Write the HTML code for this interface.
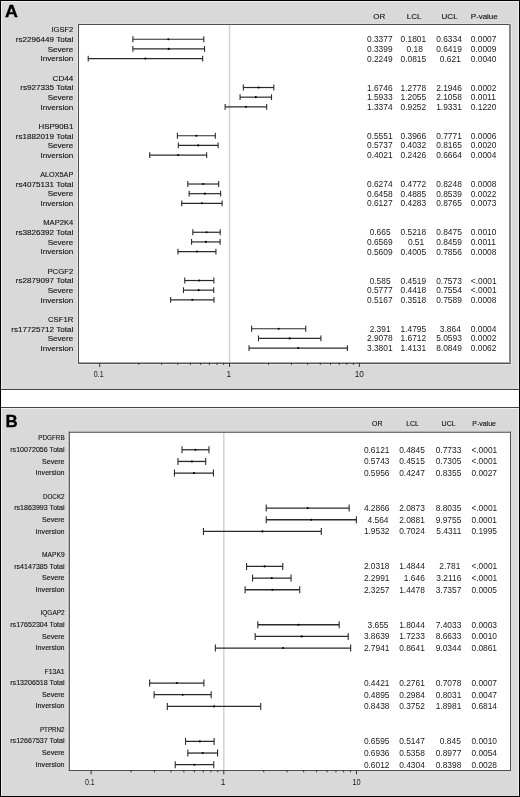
<!DOCTYPE html>
<html><head><meta charset="utf-8"><style>
html,body{margin:0;padding:0;background:#000;width:520px;height:797px;overflow:hidden}
svg{filter:blur(0.3px)}
.lb{stroke:#111;stroke-width:0.12px}
</style></head><body>
<svg width="520" height="797" viewBox="0 0 520 797" style="display:block"><g font-family='"Liberation Sans", sans-serif'><rect x="0" y="0" width="520" height="797" fill="#000"/><rect x="1" y="389" width="518" height="19" fill="#fff"/><rect x="1" y="1" width="518" height="388" fill="#d9d9d9"/>
<rect x="1" y="1" width="1" height="388" fill="#efefef"/>
<rect x="1" y="1" width="518" height="1" fill="#efefef"/>
<rect x="518" y="1" width="1" height="388" fill="#ececec"/>
<text transform="translate(5.1 17.0) scale(1.05 1)" font-size="17" font-weight="bold" fill="#000" stroke="#000" stroke-width="0.35">A</text>
<rect x="78.5" y="24.5" width="431.1" height="338.4" fill="#fff"/>
<line x1="229.53" y1="24.5" x2="229.53" y2="362.9" stroke="#d3d3d3" stroke-width="1.5"/>
<rect x="77" y="23" width="1" height="342" fill="#e4e4e4"/>
<rect x="77" y="23" width="435" height="1" fill="#e0e0e0"/>
<rect x="511" y="23" width="1" height="342" fill="#e8e8e8"/>
<rect x="77" y="364" width="435" height="1" fill="#e8e8e8"/>
<rect x="78" y="24" width="1" height="340" fill="#4e4e4e"/>
<rect x="78" y="24" width="432" height="1" fill="#4e4e4e"/>
<rect x="509" y="24" width="2" height="340" fill="#858585"/>
<rect x="79" y="362" width="431" height="1" fill="#a8a8a8"/>
<rect x="78" y="363" width="433" height="1" fill="#555"/>
<line x1="99.73" y1="362.9" x2="99.73" y2="366.9" stroke="#333" stroke-width="1"/>
<line x1="138.80" y1="362.9" x2="138.80" y2="364.9" stroke="#333" stroke-width="1"/>
<line x1="161.66" y1="362.9" x2="161.66" y2="364.9" stroke="#333" stroke-width="1"/>
<line x1="177.88" y1="362.9" x2="177.88" y2="364.9" stroke="#333" stroke-width="1"/>
<line x1="190.46" y1="362.9" x2="190.46" y2="364.9" stroke="#333" stroke-width="1"/>
<line x1="200.73" y1="362.9" x2="200.73" y2="364.9" stroke="#333" stroke-width="1"/>
<line x1="209.42" y1="362.9" x2="209.42" y2="364.9" stroke="#333" stroke-width="1"/>
<line x1="216.95" y1="362.9" x2="216.95" y2="364.9" stroke="#333" stroke-width="1"/>
<line x1="223.59" y1="362.9" x2="223.59" y2="364.9" stroke="#333" stroke-width="1"/>
<line x1="229.53" y1="362.9" x2="229.53" y2="366.9" stroke="#333" stroke-width="1"/>
<line x1="268.60" y1="362.9" x2="268.60" y2="364.9" stroke="#333" stroke-width="1"/>
<line x1="291.46" y1="362.9" x2="291.46" y2="364.9" stroke="#333" stroke-width="1"/>
<line x1="307.68" y1="362.9" x2="307.68" y2="364.9" stroke="#333" stroke-width="1"/>
<line x1="320.26" y1="362.9" x2="320.26" y2="364.9" stroke="#333" stroke-width="1"/>
<line x1="330.53" y1="362.9" x2="330.53" y2="364.9" stroke="#333" stroke-width="1"/>
<line x1="339.22" y1="362.9" x2="339.22" y2="364.9" stroke="#333" stroke-width="1"/>
<line x1="346.75" y1="362.9" x2="346.75" y2="364.9" stroke="#333" stroke-width="1"/>
<line x1="353.39" y1="362.9" x2="353.39" y2="364.9" stroke="#333" stroke-width="1"/>
<line x1="359.33" y1="362.9" x2="359.33" y2="366.9" stroke="#333" stroke-width="1"/>
<text x="98.73" y="376.8" font-size="8.3" text-anchor="middle" fill="#1a1a1a" textLength="9.8" lengthAdjust="spacingAndGlyphs">0.1</text>
<text x="228.93" y="376.8" font-size="8.3" text-anchor="middle" fill="#1a1a1a">1</text>
<text x="359.33" y="376.8" font-size="8.3" text-anchor="middle" fill="#1a1a1a">10</text>
<text x="379.3" y="18.8" font-size="8.0" text-anchor="middle" fill="#111" class="lb">OR</text>
<text x="414.2" y="18.8" font-size="8.0" text-anchor="middle" fill="#111" class="lb">LCL</text>
<text x="449.6" y="18.8" font-size="8.0" text-anchor="middle" fill="#111" class="lb">UCL</text>
<text x="484.2" y="18.8" font-size="8.0" text-anchor="middle" fill="#111" class="lb">P-value</text>
<text transform="translate(73.3 32.42) scale(0.935 1)" font-size="8.1" text-anchor="end" fill="#111" class="lb">IGSF2</text>
<text x="73.3" y="42.07" font-size="8.1" text-anchor="end" fill="#111" class="lb">rs2296449 Total</text>
<line x1="132.90" y1="39.27" x2="203.79" y2="39.27" stroke="#2a2a2a" stroke-width="1.2"/>
<line x1="132.90" y1="36.37" x2="132.90" y2="42.17" stroke="#2a2a2a" stroke-width="1.1"/>
<line x1="203.79" y1="36.37" x2="203.79" y2="42.17" stroke="#2a2a2a" stroke-width="1.1"/>
<circle cx="168.33" cy="39.27" r="1.05" fill="#000"/>
<text x="392.60" y="42.27" font-size="8.4" text-anchor="end" fill="#1a1a1a">0.3377</text>
<text x="426.20" y="42.27" font-size="8.4" text-anchor="end" fill="#1a1a1a">0.1801</text>
<text x="461.80" y="42.27" font-size="8.4" text-anchor="end" fill="#1a1a1a">0.6334</text>
<text x="470.80" y="42.27" font-size="8.4" fill="#1a1a1a">0.0007</text>
<text x="73.3" y="51.72" font-size="8.1" text-anchor="end" fill="#111" class="lb">Severe</text>
<line x1="132.86" y1="48.92" x2="204.54" y2="48.92" stroke="#2a2a2a" stroke-width="1.2"/>
<line x1="132.86" y1="46.02" x2="132.86" y2="51.82" stroke="#2a2a2a" stroke-width="1.1"/>
<line x1="204.54" y1="46.02" x2="204.54" y2="51.82" stroke="#2a2a2a" stroke-width="1.1"/>
<circle cx="168.70" cy="48.92" r="1.05" fill="#000"/>
<text x="392.60" y="51.92" font-size="8.4" text-anchor="end" fill="#1a1a1a">0.3399</text>
<text x="422.80" y="51.92" font-size="8.4" text-anchor="end" fill="#1a1a1a">0.18</text>
<text x="461.80" y="51.92" font-size="8.4" text-anchor="end" fill="#1a1a1a">0.6419</text>
<text x="470.80" y="51.92" font-size="8.4" fill="#1a1a1a">0.0009</text>
<text x="73.3" y="61.37" font-size="8.1" text-anchor="end" fill="#111" class="lb">Inversion</text>
<line x1="88.20" y1="58.57" x2="202.67" y2="58.57" stroke="#2a2a2a" stroke-width="1.2"/>
<line x1="88.20" y1="55.67" x2="88.20" y2="61.47" stroke="#2a2a2a" stroke-width="1.1"/>
<line x1="202.67" y1="55.67" x2="202.67" y2="61.47" stroke="#2a2a2a" stroke-width="1.1"/>
<circle cx="145.42" cy="58.57" r="1.05" fill="#000"/>
<text x="392.60" y="61.57" font-size="8.4" text-anchor="end" fill="#1a1a1a">0.2249</text>
<text x="426.20" y="61.57" font-size="8.4" text-anchor="end" fill="#1a1a1a">0.0815</text>
<text x="460.80" y="61.57" font-size="8.4" text-anchor="end" fill="#1a1a1a">0.621</text>
<text x="470.80" y="61.57" font-size="8.4" fill="#1a1a1a">0.0040</text>
<text x="73.3" y="80.67" font-size="8.1" text-anchor="end" fill="#111" class="lb">CD44</text>
<text x="73.3" y="90.32" font-size="8.1" text-anchor="end" fill="#111" class="lb">rs927335 Total</text>
<line x1="243.35" y1="87.52" x2="273.84" y2="87.52" stroke="#2a2a2a" stroke-width="1.2"/>
<line x1="243.35" y1="84.62" x2="243.35" y2="90.42" stroke="#2a2a2a" stroke-width="1.1"/>
<line x1="273.84" y1="84.62" x2="273.84" y2="90.42" stroke="#2a2a2a" stroke-width="1.1"/>
<circle cx="258.59" cy="87.52" r="1.05" fill="#000"/>
<text x="392.60" y="90.52" font-size="8.4" text-anchor="end" fill="#1a1a1a">1.6746</text>
<text x="426.20" y="90.52" font-size="8.4" text-anchor="end" fill="#1a1a1a">1.2778</text>
<text x="461.80" y="90.52" font-size="8.4" text-anchor="end" fill="#1a1a1a">2.1946</text>
<text x="470.80" y="90.52" font-size="8.4" fill="#1a1a1a">0.0002</text>
<text x="73.3" y="99.97" font-size="8.1" text-anchor="end" fill="#111" class="lb">Severe</text>
<line x1="240.07" y1="97.17" x2="271.51" y2="97.17" stroke="#2a2a2a" stroke-width="1.2"/>
<line x1="240.07" y1="94.27" x2="240.07" y2="100.07" stroke="#2a2a2a" stroke-width="1.1"/>
<line x1="271.51" y1="94.27" x2="271.51" y2="100.07" stroke="#2a2a2a" stroke-width="1.1"/>
<circle cx="255.79" cy="97.17" r="1.05" fill="#000"/>
<text x="392.60" y="100.17" font-size="8.4" text-anchor="end" fill="#1a1a1a">1.5933</text>
<text x="426.20" y="100.17" font-size="8.4" text-anchor="end" fill="#1a1a1a">1.2055</text>
<text x="461.80" y="100.17" font-size="8.4" text-anchor="end" fill="#1a1a1a">2.1058</text>
<text x="470.80" y="100.17" font-size="8.4" fill="#1a1a1a">0.0011</text>
<text x="73.3" y="109.62" font-size="8.1" text-anchor="end" fill="#111" class="lb">Inversion</text>
<line x1="225.15" y1="106.82" x2="266.69" y2="106.82" stroke="#2a2a2a" stroke-width="1.2"/>
<line x1="225.15" y1="103.92" x2="225.15" y2="109.72" stroke="#2a2a2a" stroke-width="1.1"/>
<line x1="266.69" y1="103.92" x2="266.69" y2="109.72" stroke="#2a2a2a" stroke-width="1.1"/>
<circle cx="245.92" cy="106.82" r="1.05" fill="#000"/>
<text x="392.60" y="109.82" font-size="8.4" text-anchor="end" fill="#1a1a1a">1.3374</text>
<text x="426.20" y="109.82" font-size="8.4" text-anchor="end" fill="#1a1a1a">0.9252</text>
<text x="461.80" y="109.82" font-size="8.4" text-anchor="end" fill="#1a1a1a">1.9331</text>
<text x="470.80" y="109.82" font-size="8.4" fill="#1a1a1a">0.1220</text>
<text transform="translate(73.3 128.92) scale(0.98 1)" font-size="8.1" text-anchor="end" fill="#111" class="lb">HSP90B1</text>
<text x="73.3" y="138.57" font-size="8.1" text-anchor="end" fill="#111" class="lb">rs1882019 Total</text>
<line x1="177.40" y1="135.77" x2="215.31" y2="135.77" stroke="#2a2a2a" stroke-width="1.2"/>
<line x1="177.40" y1="132.87" x2="177.40" y2="138.67" stroke="#2a2a2a" stroke-width="1.1"/>
<line x1="215.31" y1="132.87" x2="215.31" y2="138.67" stroke="#2a2a2a" stroke-width="1.1"/>
<circle cx="196.35" cy="135.77" r="1.05" fill="#000"/>
<text x="392.60" y="138.77" font-size="8.4" text-anchor="end" fill="#1a1a1a">0.5551</text>
<text x="426.20" y="138.77" font-size="8.4" text-anchor="end" fill="#1a1a1a">0.3966</text>
<text x="461.80" y="138.77" font-size="8.4" text-anchor="end" fill="#1a1a1a">0.7771</text>
<text x="470.80" y="138.77" font-size="8.4" fill="#1a1a1a">0.0006</text>
<text x="73.3" y="148.22" font-size="8.1" text-anchor="end" fill="#111" class="lb">Severe</text>
<line x1="178.33" y1="145.42" x2="218.10" y2="145.42" stroke="#2a2a2a" stroke-width="1.2"/>
<line x1="178.33" y1="142.52" x2="178.33" y2="148.32" stroke="#2a2a2a" stroke-width="1.1"/>
<line x1="218.10" y1="142.52" x2="218.10" y2="148.32" stroke="#2a2a2a" stroke-width="1.1"/>
<circle cx="198.21" cy="145.42" r="1.05" fill="#000"/>
<text x="392.60" y="148.42" font-size="8.4" text-anchor="end" fill="#1a1a1a">0.5737</text>
<text x="426.20" y="148.42" font-size="8.4" text-anchor="end" fill="#1a1a1a">0.4032</text>
<text x="461.80" y="148.42" font-size="8.4" text-anchor="end" fill="#1a1a1a">0.8165</text>
<text x="470.80" y="148.42" font-size="8.4" fill="#1a1a1a">0.0020</text>
<text x="73.3" y="157.87" font-size="8.1" text-anchor="end" fill="#111" class="lb">Inversion</text>
<line x1="149.69" y1="155.07" x2="206.65" y2="155.07" stroke="#2a2a2a" stroke-width="1.2"/>
<line x1="149.69" y1="152.17" x2="149.69" y2="157.97" stroke="#2a2a2a" stroke-width="1.1"/>
<line x1="206.65" y1="152.17" x2="206.65" y2="157.97" stroke="#2a2a2a" stroke-width="1.1"/>
<circle cx="178.17" cy="155.07" r="1.05" fill="#000"/>
<text x="392.60" y="158.07" font-size="8.4" text-anchor="end" fill="#1a1a1a">0.4021</text>
<text x="426.20" y="158.07" font-size="8.4" text-anchor="end" fill="#1a1a1a">0.2426</text>
<text x="461.80" y="158.07" font-size="8.4" text-anchor="end" fill="#1a1a1a">0.6664</text>
<text x="470.80" y="158.07" font-size="8.4" fill="#1a1a1a">0.0004</text>
<text transform="translate(73.3 177.17) scale(0.897 1)" font-size="8.1" text-anchor="end" fill="#111" class="lb">ALOX5AP</text>
<text x="73.3" y="186.82" font-size="8.1" text-anchor="end" fill="#111" class="lb">rs4075131 Total</text>
<line x1="187.83" y1="184.02" x2="218.67" y2="184.02" stroke="#2a2a2a" stroke-width="1.2"/>
<line x1="187.83" y1="181.12" x2="187.83" y2="186.92" stroke="#2a2a2a" stroke-width="1.1"/>
<line x1="218.67" y1="181.12" x2="218.67" y2="186.92" stroke="#2a2a2a" stroke-width="1.1"/>
<circle cx="203.25" cy="184.02" r="1.05" fill="#000"/>
<text x="392.60" y="187.02" font-size="8.4" text-anchor="end" fill="#1a1a1a">0.6274</text>
<text x="426.20" y="187.02" font-size="8.4" text-anchor="end" fill="#1a1a1a">0.4772</text>
<text x="461.80" y="187.02" font-size="8.4" text-anchor="end" fill="#1a1a1a">0.8248</text>
<text x="470.80" y="187.02" font-size="8.4" fill="#1a1a1a">0.0008</text>
<text x="73.3" y="196.47" font-size="8.1" text-anchor="end" fill="#111" class="lb">Severe</text>
<line x1="189.14" y1="193.67" x2="220.63" y2="193.67" stroke="#2a2a2a" stroke-width="1.2"/>
<line x1="189.14" y1="190.77" x2="189.14" y2="196.57" stroke="#2a2a2a" stroke-width="1.1"/>
<line x1="220.63" y1="190.77" x2="220.63" y2="196.57" stroke="#2a2a2a" stroke-width="1.1"/>
<circle cx="204.88" cy="193.67" r="1.05" fill="#000"/>
<text x="392.60" y="196.67" font-size="8.4" text-anchor="end" fill="#1a1a1a">0.6458</text>
<text x="426.20" y="196.67" font-size="8.4" text-anchor="end" fill="#1a1a1a">0.4885</text>
<text x="461.80" y="196.67" font-size="8.4" text-anchor="end" fill="#1a1a1a">0.8539</text>
<text x="470.80" y="196.67" font-size="8.4" fill="#1a1a1a">0.0022</text>
<text x="73.3" y="206.12" font-size="8.1" text-anchor="end" fill="#111" class="lb">Inversion</text>
<line x1="181.73" y1="203.32" x2="222.10" y2="203.32" stroke="#2a2a2a" stroke-width="1.2"/>
<line x1="181.73" y1="200.42" x2="181.73" y2="206.22" stroke="#2a2a2a" stroke-width="1.1"/>
<line x1="222.10" y1="200.42" x2="222.10" y2="206.22" stroke="#2a2a2a" stroke-width="1.1"/>
<circle cx="201.91" cy="203.32" r="1.05" fill="#000"/>
<text x="392.60" y="206.32" font-size="8.4" text-anchor="end" fill="#1a1a1a">0.6127</text>
<text x="426.20" y="206.32" font-size="8.4" text-anchor="end" fill="#1a1a1a">0.4283</text>
<text x="461.80" y="206.32" font-size="8.4" text-anchor="end" fill="#1a1a1a">0.8765</text>
<text x="470.80" y="206.32" font-size="8.4" fill="#1a1a1a">0.0073</text>
<text transform="translate(73.3 225.42) scale(0.94 1)" font-size="8.1" text-anchor="end" fill="#111" class="lb">MAP2K4</text>
<text x="73.3" y="235.07" font-size="8.1" text-anchor="end" fill="#111" class="lb">rs3826392 Total</text>
<line x1="192.86" y1="232.27" x2="220.20" y2="232.27" stroke="#2a2a2a" stroke-width="1.2"/>
<line x1="192.86" y1="229.37" x2="192.86" y2="235.17" stroke="#2a2a2a" stroke-width="1.1"/>
<line x1="220.20" y1="229.37" x2="220.20" y2="235.17" stroke="#2a2a2a" stroke-width="1.1"/>
<circle cx="206.53" cy="232.27" r="1.05" fill="#000"/>
<text x="390.60" y="235.27" font-size="8.4" text-anchor="end" fill="#1a1a1a">0.665</text>
<text x="426.20" y="235.27" font-size="8.4" text-anchor="end" fill="#1a1a1a">0.5218</text>
<text x="461.80" y="235.27" font-size="8.4" text-anchor="end" fill="#1a1a1a">0.8475</text>
<text x="470.80" y="235.27" font-size="8.4" fill="#1a1a1a">0.0010</text>
<text x="73.3" y="244.72" font-size="8.1" text-anchor="end" fill="#111" class="lb">Severe</text>
<line x1="191.57" y1="241.92" x2="220.10" y2="241.92" stroke="#2a2a2a" stroke-width="1.2"/>
<line x1="191.57" y1="239.02" x2="191.57" y2="244.82" stroke="#2a2a2a" stroke-width="1.1"/>
<line x1="220.10" y1="239.02" x2="220.10" y2="244.82" stroke="#2a2a2a" stroke-width="1.1"/>
<circle cx="205.84" cy="241.92" r="1.05" fill="#000"/>
<text x="392.60" y="244.92" font-size="8.4" text-anchor="end" fill="#1a1a1a">0.6569</text>
<text x="424.20" y="244.92" font-size="8.4" text-anchor="end" fill="#1a1a1a">0.51</text>
<text x="461.80" y="244.92" font-size="8.4" text-anchor="end" fill="#1a1a1a">0.8459</text>
<text x="470.80" y="244.92" font-size="8.4" fill="#1a1a1a">0.0011</text>
<text x="73.3" y="254.37" font-size="8.1" text-anchor="end" fill="#111" class="lb">Inversion</text>
<line x1="177.95" y1="251.57" x2="215.93" y2="251.57" stroke="#2a2a2a" stroke-width="1.2"/>
<line x1="177.95" y1="248.67" x2="177.95" y2="254.47" stroke="#2a2a2a" stroke-width="1.1"/>
<line x1="215.93" y1="248.67" x2="215.93" y2="254.47" stroke="#2a2a2a" stroke-width="1.1"/>
<circle cx="196.94" cy="251.57" r="1.05" fill="#000"/>
<text x="392.60" y="254.57" font-size="8.4" text-anchor="end" fill="#1a1a1a">0.5609</text>
<text x="426.20" y="254.57" font-size="8.4" text-anchor="end" fill="#1a1a1a">0.4005</text>
<text x="461.80" y="254.57" font-size="8.4" text-anchor="end" fill="#1a1a1a">0.7856</text>
<text x="470.80" y="254.57" font-size="8.4" fill="#1a1a1a">0.0008</text>
<text transform="translate(73.3 273.67) scale(0.958 1)" font-size="8.1" text-anchor="end" fill="#111" class="lb">PCGF2</text>
<text x="73.3" y="283.32" font-size="8.1" text-anchor="end" fill="#111" class="lb">rs2879097 Total</text>
<line x1="184.75" y1="280.52" x2="213.86" y2="280.52" stroke="#2a2a2a" stroke-width="1.2"/>
<line x1="184.75" y1="277.62" x2="184.75" y2="283.42" stroke="#2a2a2a" stroke-width="1.1"/>
<line x1="213.86" y1="277.62" x2="213.86" y2="283.42" stroke="#2a2a2a" stroke-width="1.1"/>
<circle cx="199.31" cy="280.52" r="1.05" fill="#000"/>
<text x="390.60" y="283.52" font-size="8.4" text-anchor="end" fill="#1a1a1a">0.585</text>
<text x="426.20" y="283.52" font-size="8.4" text-anchor="end" fill="#1a1a1a">0.4519</text>
<text x="461.80" y="283.52" font-size="8.4" text-anchor="end" fill="#1a1a1a">0.7573</text>
<text x="470.80" y="283.52" font-size="8.4" fill="#1a1a1a"><.0001</text>
<text x="73.3" y="292.97" font-size="8.1" text-anchor="end" fill="#111" class="lb">Severe</text>
<line x1="183.48" y1="290.17" x2="213.72" y2="290.17" stroke="#2a2a2a" stroke-width="1.2"/>
<line x1="183.48" y1="287.27" x2="183.48" y2="293.07" stroke="#2a2a2a" stroke-width="1.1"/>
<line x1="213.72" y1="287.27" x2="213.72" y2="293.07" stroke="#2a2a2a" stroke-width="1.1"/>
<circle cx="198.60" cy="290.17" r="1.05" fill="#000"/>
<text x="392.60" y="293.17" font-size="8.4" text-anchor="end" fill="#1a1a1a">0.5777</text>
<text x="426.20" y="293.17" font-size="8.4" text-anchor="end" fill="#1a1a1a">0.4418</text>
<text x="461.80" y="293.17" font-size="8.4" text-anchor="end" fill="#1a1a1a">0.7554</text>
<text x="470.80" y="293.17" font-size="8.4" fill="#1a1a1a"><.0001</text>
<text x="73.3" y="302.62" font-size="8.1" text-anchor="end" fill="#111" class="lb">Inversion</text>
<line x1="170.64" y1="299.82" x2="213.98" y2="299.82" stroke="#2a2a2a" stroke-width="1.2"/>
<line x1="170.64" y1="296.92" x2="170.64" y2="302.72" stroke="#2a2a2a" stroke-width="1.1"/>
<line x1="213.98" y1="296.92" x2="213.98" y2="302.72" stroke="#2a2a2a" stroke-width="1.1"/>
<circle cx="192.31" cy="299.82" r="1.05" fill="#000"/>
<text x="392.60" y="302.82" font-size="8.4" text-anchor="end" fill="#1a1a1a">0.5167</text>
<text x="426.20" y="302.82" font-size="8.4" text-anchor="end" fill="#1a1a1a">0.3518</text>
<text x="461.80" y="302.82" font-size="8.4" text-anchor="end" fill="#1a1a1a">0.7589</text>
<text x="470.80" y="302.82" font-size="8.4" fill="#1a1a1a">0.0008</text>
<text transform="translate(73.3 321.92) scale(0.958 1)" font-size="8.1" text-anchor="end" fill="#111" class="lb">CSF1R</text>
<text x="73.3" y="331.57" font-size="8.1" text-anchor="end" fill="#111" class="lb">rs17725712 Total</text>
<line x1="251.61" y1="328.77" x2="305.73" y2="328.77" stroke="#2a2a2a" stroke-width="1.2"/>
<line x1="251.61" y1="325.87" x2="251.61" y2="331.67" stroke="#2a2a2a" stroke-width="1.1"/>
<line x1="305.73" y1="325.87" x2="305.73" y2="331.67" stroke="#2a2a2a" stroke-width="1.1"/>
<circle cx="278.67" cy="328.77" r="1.05" fill="#000"/>
<text x="390.60" y="331.77" font-size="8.4" text-anchor="end" fill="#1a1a1a">2.391</text>
<text x="426.20" y="331.77" font-size="8.4" text-anchor="end" fill="#1a1a1a">1.4795</text>
<text x="460.80" y="331.77" font-size="8.4" text-anchor="end" fill="#1a1a1a">3.864</text>
<text x="470.80" y="331.77" font-size="8.4" fill="#1a1a1a">0.0004</text>
<text x="73.3" y="341.22" font-size="8.1" text-anchor="end" fill="#111" class="lb">Severe</text>
<line x1="258.48" y1="338.42" x2="320.92" y2="338.42" stroke="#2a2a2a" stroke-width="1.2"/>
<line x1="258.48" y1="335.52" x2="258.48" y2="341.32" stroke="#2a2a2a" stroke-width="1.1"/>
<line x1="320.92" y1="335.52" x2="320.92" y2="341.32" stroke="#2a2a2a" stroke-width="1.1"/>
<circle cx="289.70" cy="338.42" r="1.05" fill="#000"/>
<text x="392.60" y="341.42" font-size="8.4" text-anchor="end" fill="#1a1a1a">2.9078</text>
<text x="426.20" y="341.42" font-size="8.4" text-anchor="end" fill="#1a1a1a">1.6712</text>
<text x="461.80" y="341.42" font-size="8.4" text-anchor="end" fill="#1a1a1a">5.0593</text>
<text x="470.80" y="341.42" font-size="8.4" fill="#1a1a1a">0.0002</text>
<text x="73.3" y="350.87" font-size="8.1" text-anchor="end" fill="#111" class="lb">Inversion</text>
<line x1="249.02" y1="348.07" x2="347.35" y2="348.07" stroke="#2a2a2a" stroke-width="1.2"/>
<line x1="249.02" y1="345.17" x2="249.02" y2="350.97" stroke="#2a2a2a" stroke-width="1.1"/>
<line x1="347.35" y1="345.17" x2="347.35" y2="350.97" stroke="#2a2a2a" stroke-width="1.1"/>
<circle cx="298.19" cy="348.07" r="1.05" fill="#000"/>
<text x="392.60" y="351.07" font-size="8.4" text-anchor="end" fill="#1a1a1a">3.3801</text>
<text x="426.20" y="351.07" font-size="8.4" text-anchor="end" fill="#1a1a1a">1.4131</text>
<text x="461.80" y="351.07" font-size="8.4" text-anchor="end" fill="#1a1a1a">8.0849</text>
<text x="470.80" y="351.07" font-size="8.4" fill="#1a1a1a">0.0062</text><rect x="1" y="408" width="518" height="388" fill="#d9d9d9"/>
<rect x="1" y="408" width="1" height="388" fill="#efefef"/>
<rect x="1" y="408" width="518" height="1" fill="#efefef"/>
<rect x="518" y="408" width="1" height="388" fill="#ececec"/>
<text transform="translate(5.6 427.0) scale(0.99 1)" font-size="17" font-weight="bold" fill="#000" stroke="#000" stroke-width="0.35">B</text>
<rect x="69.3" y="432.2" width="441.09999999999997" height="338.09999999999997" fill="#fff"/>
<line x1="223.8" y1="432.2" x2="223.8" y2="770.3" stroke="#d3d3d3" stroke-width="1.5"/>
<rect x="67" y="431" width="1" height="341" fill="#e2e2e2"/>
<line x1="69.3" y1="431.7" x2="69.3" y2="771" stroke="#4a4a4a" stroke-width="1.1"/>
<line x1="68.8" y1="432.2" x2="511" y2="432.2" stroke="#4a4a4a" stroke-width="1.1"/>
<rect x="510" y="431.7" width="1" height="339.3" fill="#505050"/>
<rect x="68.8" y="770" width="442.2" height="1" fill="#505050"/>
<rect x="511" y="432.2" width="1" height="338.8" fill="#dedede"/>
<line x1="91.10" y1="770.3" x2="91.10" y2="774.3" stroke="#333" stroke-width="1"/>
<line x1="131.05" y1="770.3" x2="131.05" y2="772.3" stroke="#333" stroke-width="1"/>
<line x1="154.41" y1="770.3" x2="154.41" y2="772.3" stroke="#333" stroke-width="1"/>
<line x1="170.99" y1="770.3" x2="170.99" y2="772.3" stroke="#333" stroke-width="1"/>
<line x1="183.85" y1="770.3" x2="183.85" y2="772.3" stroke="#333" stroke-width="1"/>
<line x1="194.36" y1="770.3" x2="194.36" y2="772.3" stroke="#333" stroke-width="1"/>
<line x1="203.24" y1="770.3" x2="203.24" y2="772.3" stroke="#333" stroke-width="1"/>
<line x1="210.94" y1="770.3" x2="210.94" y2="772.3" stroke="#333" stroke-width="1"/>
<line x1="217.73" y1="770.3" x2="217.73" y2="772.3" stroke="#333" stroke-width="1"/>
<line x1="223.80" y1="770.3" x2="223.80" y2="774.3" stroke="#333" stroke-width="1"/>
<line x1="263.75" y1="770.3" x2="263.75" y2="772.3" stroke="#333" stroke-width="1"/>
<line x1="287.11" y1="770.3" x2="287.11" y2="772.3" stroke="#333" stroke-width="1"/>
<line x1="303.69" y1="770.3" x2="303.69" y2="772.3" stroke="#333" stroke-width="1"/>
<line x1="316.55" y1="770.3" x2="316.55" y2="772.3" stroke="#333" stroke-width="1"/>
<line x1="327.06" y1="770.3" x2="327.06" y2="772.3" stroke="#333" stroke-width="1"/>
<line x1="335.94" y1="770.3" x2="335.94" y2="772.3" stroke="#333" stroke-width="1"/>
<line x1="343.64" y1="770.3" x2="343.64" y2="772.3" stroke="#333" stroke-width="1"/>
<line x1="350.43" y1="770.3" x2="350.43" y2="772.3" stroke="#333" stroke-width="1"/>
<line x1="356.50" y1="770.3" x2="356.50" y2="774.3" stroke="#333" stroke-width="1"/>
<text x="89.80" y="784.8" font-size="8.3" text-anchor="middle" fill="#1a1a1a" textLength="9.8" lengthAdjust="spacingAndGlyphs">0.1</text>
<text x="223.00" y="784.8" font-size="8.3" text-anchor="middle" fill="#1a1a1a">1</text>
<text x="356.50" y="784.8" font-size="8.3" text-anchor="middle" fill="#1a1a1a" textLength="8.2" lengthAdjust="spacingAndGlyphs">10</text>
<text x="377.2" y="426.1" font-size="7.0" text-anchor="middle" fill="#111" class="lb">OR</text>
<text x="412.6" y="426.1" font-size="7.0" text-anchor="middle" fill="#111" class="lb">LCL</text>
<text x="448.6" y="426.1" font-size="7.0" text-anchor="middle" fill="#111" class="lb">UCL</text>
<text x="484.1" y="426.1" font-size="7.0" text-anchor="middle" fill="#111" class="lb">P-value</text>
<text transform="translate(64.6 440.19) scale(0.855 1)" font-size="7.4" text-anchor="end" fill="#111" class="lb">PDGFRB</text>
<text transform="translate(64.6 451.86) scale(0.96 1)" font-size="7.4" text-anchor="end" fill="#111" class="lb">rs10072056 Total</text>
<line x1="182.04" y1="449.76" x2="208.98" y2="449.76" stroke="#2a2a2a" stroke-width="1.3"/>
<line x1="182.04" y1="446.26" x2="182.04" y2="453.26" stroke="#2a2a2a" stroke-width="1.1"/>
<line x1="208.98" y1="446.26" x2="208.98" y2="453.26" stroke="#2a2a2a" stroke-width="1.1"/>
<circle cx="195.51" cy="449.76" r="1.05" fill="#000"/>
<text x="389.50" y="452.76" font-size="8.4" text-anchor="end" fill="#1a1a1a">0.6121</text>
<text x="424.80" y="452.76" font-size="8.4" text-anchor="end" fill="#1a1a1a">0.4845</text>
<text x="461.30" y="452.76" font-size="8.4" text-anchor="end" fill="#1a1a1a">0.7733</text>
<text x="471.40" y="452.76" font-size="8.4" fill="#1a1a1a"><.0001</text>
<text transform="translate(64.6 463.53) scale(0.965 1)" font-size="7.4" text-anchor="end" fill="#111" class="lb">Severe</text>
<line x1="177.97" y1="461.43" x2="205.70" y2="461.43" stroke="#2a2a2a" stroke-width="1.3"/>
<line x1="177.97" y1="457.93" x2="177.97" y2="464.93" stroke="#2a2a2a" stroke-width="1.1"/>
<line x1="205.70" y1="457.93" x2="205.70" y2="464.93" stroke="#2a2a2a" stroke-width="1.1"/>
<circle cx="191.84" cy="461.43" r="1.05" fill="#000"/>
<text x="389.50" y="464.43" font-size="8.4" text-anchor="end" fill="#1a1a1a">0.5743</text>
<text x="424.80" y="464.43" font-size="8.4" text-anchor="end" fill="#1a1a1a">0.4515</text>
<text x="461.30" y="464.43" font-size="8.4" text-anchor="end" fill="#1a1a1a">0.7305</text>
<text x="471.40" y="464.43" font-size="8.4" fill="#1a1a1a"><.0001</text>
<text transform="translate(64.6 475.19) scale(0.967 1)" font-size="7.4" text-anchor="end" fill="#111" class="lb">Inversion</text>
<line x1="174.45" y1="473.09" x2="213.44" y2="473.09" stroke="#2a2a2a" stroke-width="1.3"/>
<line x1="174.45" y1="469.59" x2="174.45" y2="476.59" stroke="#2a2a2a" stroke-width="1.1"/>
<line x1="213.44" y1="469.59" x2="213.44" y2="476.59" stroke="#2a2a2a" stroke-width="1.1"/>
<circle cx="193.94" cy="473.09" r="1.05" fill="#000"/>
<text x="389.50" y="476.09" font-size="8.4" text-anchor="end" fill="#1a1a1a">0.5956</text>
<text x="424.80" y="476.09" font-size="8.4" text-anchor="end" fill="#1a1a1a">0.4247</text>
<text x="461.30" y="476.09" font-size="8.4" text-anchor="end" fill="#1a1a1a">0.8355</text>
<text x="471.40" y="476.09" font-size="8.4" fill="#1a1a1a">0.0027</text>
<text transform="translate(64.6 498.52) scale(0.85 1)" font-size="7.4" text-anchor="end" fill="#111" class="lb">DOCK2</text>
<text transform="translate(64.6 510.19) scale(0.96 1)" font-size="7.4" text-anchor="end" fill="#111" class="lb">rs1863993 Total</text>
<line x1="266.21" y1="508.08" x2="349.16" y2="508.08" stroke="#2a2a2a" stroke-width="1.3"/>
<line x1="266.21" y1="504.58" x2="266.21" y2="511.58" stroke="#2a2a2a" stroke-width="1.1"/>
<line x1="349.16" y1="504.58" x2="349.16" y2="511.58" stroke="#2a2a2a" stroke-width="1.1"/>
<circle cx="307.68" cy="508.08" r="1.05" fill="#000"/>
<text x="389.50" y="511.08" font-size="8.4" text-anchor="end" fill="#1a1a1a">4.2866</text>
<text x="424.80" y="511.08" font-size="8.4" text-anchor="end" fill="#1a1a1a">2.0873</text>
<text x="461.30" y="511.08" font-size="8.4" text-anchor="end" fill="#1a1a1a">8.8035</text>
<text x="471.40" y="511.08" font-size="8.4" fill="#1a1a1a"><.0001</text>
<text transform="translate(64.6 521.85) scale(0.965 1)" font-size="7.4" text-anchor="end" fill="#111" class="lb">Severe</text>
<line x1="266.23" y1="519.75" x2="356.36" y2="519.75" stroke="#2a2a2a" stroke-width="1.3"/>
<line x1="266.23" y1="516.25" x2="266.23" y2="523.25" stroke="#2a2a2a" stroke-width="1.1"/>
<line x1="356.36" y1="516.25" x2="356.36" y2="523.25" stroke="#2a2a2a" stroke-width="1.1"/>
<circle cx="311.30" cy="519.75" r="1.05" fill="#000"/>
<text x="388.50" y="522.75" font-size="8.4" text-anchor="end" fill="#1a1a1a">4.564</text>
<text x="424.80" y="522.75" font-size="8.4" text-anchor="end" fill="#1a1a1a">2.0881</text>
<text x="461.30" y="522.75" font-size="8.4" text-anchor="end" fill="#1a1a1a">9.9755</text>
<text x="471.40" y="522.75" font-size="8.4" fill="#1a1a1a">0.0001</text>
<text transform="translate(64.6 533.51) scale(0.967 1)" font-size="7.4" text-anchor="end" fill="#111" class="lb">Inversion</text>
<line x1="203.44" y1="531.41" x2="321.32" y2="531.41" stroke="#2a2a2a" stroke-width="1.3"/>
<line x1="203.44" y1="527.91" x2="203.44" y2="534.91" stroke="#2a2a2a" stroke-width="1.1"/>
<line x1="321.32" y1="527.91" x2="321.32" y2="534.91" stroke="#2a2a2a" stroke-width="1.1"/>
<circle cx="262.38" cy="531.41" r="1.05" fill="#000"/>
<text x="389.50" y="534.41" font-size="8.4" text-anchor="end" fill="#1a1a1a">1.9532</text>
<text x="424.80" y="534.41" font-size="8.4" text-anchor="end" fill="#1a1a1a">0.7024</text>
<text x="461.30" y="534.41" font-size="8.4" text-anchor="end" fill="#1a1a1a">5.4311</text>
<text x="471.40" y="534.41" font-size="8.4" fill="#1a1a1a">0.1995</text>
<text transform="translate(64.6 556.85) scale(0.9 1)" font-size="7.4" text-anchor="end" fill="#111" class="lb">MAPK9</text>
<text transform="translate(64.6 568.51) scale(0.96 1)" font-size="7.4" text-anchor="end" fill="#111" class="lb">rs4147385 Total</text>
<line x1="246.56" y1="566.41" x2="282.75" y2="566.41" stroke="#2a2a2a" stroke-width="1.3"/>
<line x1="246.56" y1="562.91" x2="246.56" y2="569.91" stroke="#2a2a2a" stroke-width="1.1"/>
<line x1="282.75" y1="562.91" x2="282.75" y2="569.91" stroke="#2a2a2a" stroke-width="1.1"/>
<circle cx="264.66" cy="566.41" r="1.05" fill="#000"/>
<text x="389.50" y="569.41" font-size="8.4" text-anchor="end" fill="#1a1a1a">2.0318</text>
<text x="424.80" y="569.41" font-size="8.4" text-anchor="end" fill="#1a1a1a">1.4844</text>
<text x="460.30" y="569.41" font-size="8.4" text-anchor="end" fill="#1a1a1a">2.781</text>
<text x="471.40" y="569.41" font-size="8.4" fill="#1a1a1a"><.0001</text>
<text transform="translate(64.6 580.18) scale(0.965 1)" font-size="7.4" text-anchor="end" fill="#111" class="lb">Severe</text>
<line x1="252.52" y1="578.08" x2="291.04" y2="578.08" stroke="#2a2a2a" stroke-width="1.3"/>
<line x1="252.52" y1="574.58" x2="252.52" y2="581.58" stroke="#2a2a2a" stroke-width="1.1"/>
<line x1="291.04" y1="574.58" x2="291.04" y2="581.58" stroke="#2a2a2a" stroke-width="1.1"/>
<circle cx="271.78" cy="578.08" r="1.05" fill="#000"/>
<text x="389.50" y="581.08" font-size="8.4" text-anchor="end" fill="#1a1a1a">2.2991</text>
<text x="424.80" y="581.08" font-size="8.4" text-anchor="end" fill="#1a1a1a">1.646</text>
<text x="461.30" y="581.08" font-size="8.4" text-anchor="end" fill="#1a1a1a">3.2116</text>
<text x="471.40" y="581.08" font-size="8.4" fill="#1a1a1a"><.0001</text>
<text transform="translate(64.6 591.84) scale(0.967 1)" font-size="7.4" text-anchor="end" fill="#111" class="lb">Inversion</text>
<line x1="245.13" y1="589.74" x2="299.75" y2="589.74" stroke="#2a2a2a" stroke-width="1.3"/>
<line x1="245.13" y1="586.24" x2="245.13" y2="593.24" stroke="#2a2a2a" stroke-width="1.1"/>
<line x1="299.75" y1="586.24" x2="299.75" y2="593.24" stroke="#2a2a2a" stroke-width="1.1"/>
<circle cx="272.44" cy="589.74" r="1.05" fill="#000"/>
<text x="389.50" y="592.74" font-size="8.4" text-anchor="end" fill="#1a1a1a">2.3257</text>
<text x="424.80" y="592.74" font-size="8.4" text-anchor="end" fill="#1a1a1a">1.4478</text>
<text x="461.30" y="592.74" font-size="8.4" text-anchor="end" fill="#1a1a1a">3.7357</text>
<text x="471.40" y="592.74" font-size="8.4" fill="#1a1a1a">0.0005</text>
<text transform="translate(64.6 615.17) scale(0.875 1)" font-size="7.4" text-anchor="end" fill="#111" class="lb">IQGAP2</text>
<text transform="translate(64.6 626.84) scale(0.96 1)" font-size="7.4" text-anchor="end" fill="#111" class="lb">rs17652304 Total</text>
<line x1="257.82" y1="624.74" x2="339.17" y2="624.74" stroke="#2a2a2a" stroke-width="1.3"/>
<line x1="257.82" y1="621.24" x2="257.82" y2="628.24" stroke="#2a2a2a" stroke-width="1.1"/>
<line x1="339.17" y1="621.24" x2="339.17" y2="628.24" stroke="#2a2a2a" stroke-width="1.1"/>
<circle cx="298.50" cy="624.74" r="1.05" fill="#000"/>
<text x="388.50" y="627.74" font-size="8.4" text-anchor="end" fill="#1a1a1a">3.655</text>
<text x="424.80" y="627.74" font-size="8.4" text-anchor="end" fill="#1a1a1a">1.8044</text>
<text x="461.30" y="627.74" font-size="8.4" text-anchor="end" fill="#1a1a1a">7.4033</text>
<text x="471.40" y="627.74" font-size="8.4" fill="#1a1a1a">0.0003</text>
<text transform="translate(64.6 638.50) scale(0.965 1)" font-size="7.4" text-anchor="end" fill="#111" class="lb">Severe</text>
<line x1="255.17" y1="636.4" x2="348.23" y2="636.4" stroke="#2a2a2a" stroke-width="1.3"/>
<line x1="255.17" y1="632.90" x2="255.17" y2="639.90" stroke="#2a2a2a" stroke-width="1.1"/>
<line x1="348.23" y1="632.90" x2="348.23" y2="639.90" stroke="#2a2a2a" stroke-width="1.1"/>
<circle cx="301.70" cy="636.4" r="1.05" fill="#000"/>
<text x="389.50" y="639.40" font-size="8.4" text-anchor="end" fill="#1a1a1a">3.8639</text>
<text x="424.80" y="639.40" font-size="8.4" text-anchor="end" fill="#1a1a1a">1.7233</text>
<text x="461.30" y="639.40" font-size="8.4" text-anchor="end" fill="#1a1a1a">8.6633</text>
<text x="471.40" y="639.40" font-size="8.4" fill="#1a1a1a">0.0010</text>
<text transform="translate(64.6 650.16) scale(0.967 1)" font-size="7.4" text-anchor="end" fill="#111" class="lb">Inversion</text>
<line x1="215.38" y1="648.06" x2="350.65" y2="648.06" stroke="#2a2a2a" stroke-width="1.3"/>
<line x1="215.38" y1="644.56" x2="215.38" y2="651.56" stroke="#2a2a2a" stroke-width="1.1"/>
<line x1="350.65" y1="644.56" x2="350.65" y2="651.56" stroke="#2a2a2a" stroke-width="1.1"/>
<circle cx="283.02" cy="648.06" r="1.05" fill="#000"/>
<text x="389.50" y="651.06" font-size="8.4" text-anchor="end" fill="#1a1a1a">2.7941</text>
<text x="424.80" y="651.06" font-size="8.4" text-anchor="end" fill="#1a1a1a">0.8641</text>
<text x="461.30" y="651.06" font-size="8.4" text-anchor="end" fill="#1a1a1a">9.0344</text>
<text x="471.40" y="651.06" font-size="8.4" fill="#1a1a1a">0.0861</text>
<text transform="translate(64.6 673.50) scale(0.92 1)" font-size="7.4" text-anchor="end" fill="#111" class="lb">F13A1</text>
<text transform="translate(64.6 685.16) scale(0.96 1)" font-size="7.4" text-anchor="end" fill="#111" class="lb">rs13206518 Total</text>
<line x1="149.63" y1="683.06" x2="203.88" y2="683.06" stroke="#2a2a2a" stroke-width="1.3"/>
<line x1="149.63" y1="679.56" x2="149.63" y2="686.56" stroke="#2a2a2a" stroke-width="1.1"/>
<line x1="203.88" y1="679.56" x2="203.88" y2="686.56" stroke="#2a2a2a" stroke-width="1.1"/>
<circle cx="176.76" cy="683.06" r="1.05" fill="#000"/>
<text x="389.50" y="686.06" font-size="8.4" text-anchor="end" fill="#1a1a1a">0.4421</text>
<text x="424.80" y="686.06" font-size="8.4" text-anchor="end" fill="#1a1a1a">0.2761</text>
<text x="461.30" y="686.06" font-size="8.4" text-anchor="end" fill="#1a1a1a">0.7078</text>
<text x="471.40" y="686.06" font-size="8.4" fill="#1a1a1a">0.0007</text>
<text transform="translate(64.6 696.82) scale(0.965 1)" font-size="7.4" text-anchor="end" fill="#111" class="lb">Severe</text>
<line x1="154.11" y1="694.72" x2="211.16" y2="694.72" stroke="#2a2a2a" stroke-width="1.3"/>
<line x1="154.11" y1="691.22" x2="154.11" y2="698.22" stroke="#2a2a2a" stroke-width="1.1"/>
<line x1="211.16" y1="691.22" x2="211.16" y2="698.22" stroke="#2a2a2a" stroke-width="1.1"/>
<circle cx="182.63" cy="694.72" r="1.05" fill="#000"/>
<text x="389.50" y="697.72" font-size="8.4" text-anchor="end" fill="#1a1a1a">0.4895</text>
<text x="424.80" y="697.72" font-size="8.4" text-anchor="end" fill="#1a1a1a">0.2984</text>
<text x="461.30" y="697.72" font-size="8.4" text-anchor="end" fill="#1a1a1a">0.8031</text>
<text x="471.40" y="697.72" font-size="8.4" fill="#1a1a1a">0.0047</text>
<text transform="translate(64.6 708.49) scale(0.967 1)" font-size="7.4" text-anchor="end" fill="#111" class="lb">Inversion</text>
<line x1="167.30" y1="706.39" x2="260.73" y2="706.39" stroke="#2a2a2a" stroke-width="1.3"/>
<line x1="167.30" y1="702.89" x2="167.30" y2="709.89" stroke="#2a2a2a" stroke-width="1.1"/>
<line x1="260.73" y1="702.89" x2="260.73" y2="709.89" stroke="#2a2a2a" stroke-width="1.1"/>
<circle cx="214.01" cy="706.39" r="1.05" fill="#000"/>
<text x="389.50" y="709.39" font-size="8.4" text-anchor="end" fill="#1a1a1a">0.8438</text>
<text x="424.80" y="709.39" font-size="8.4" text-anchor="end" fill="#1a1a1a">0.3752</text>
<text x="461.30" y="709.39" font-size="8.4" text-anchor="end" fill="#1a1a1a">1.8981</text>
<text x="471.40" y="709.39" font-size="8.4" fill="#1a1a1a">0.6814</text>
<text transform="translate(64.6 731.82) scale(0.845 1)" font-size="7.4" text-anchor="end" fill="#111" class="lb">PTPRN2</text>
<text transform="translate(64.6 743.49) scale(0.96 1)" font-size="7.4" text-anchor="end" fill="#111" class="lb">rs12667537 Total</text>
<line x1="185.52" y1="741.38" x2="214.09" y2="741.38" stroke="#2a2a2a" stroke-width="1.3"/>
<line x1="185.52" y1="737.88" x2="185.52" y2="744.88" stroke="#2a2a2a" stroke-width="1.1"/>
<line x1="214.09" y1="737.88" x2="214.09" y2="744.88" stroke="#2a2a2a" stroke-width="1.1"/>
<circle cx="199.81" cy="741.38" r="1.05" fill="#000"/>
<text x="389.50" y="744.38" font-size="8.4" text-anchor="end" fill="#1a1a1a">0.6595</text>
<text x="424.80" y="744.38" font-size="8.4" text-anchor="end" fill="#1a1a1a">0.5147</text>
<text x="460.80" y="744.38" font-size="8.4" text-anchor="end" fill="#1a1a1a">0.845</text>
<text x="471.40" y="744.38" font-size="8.4" fill="#1a1a1a">0.0010</text>
<text transform="translate(64.6 755.15) scale(0.965 1)" font-size="7.4" text-anchor="end" fill="#111" class="lb">Severe</text>
<line x1="187.84" y1="753.05" x2="217.58" y2="753.05" stroke="#2a2a2a" stroke-width="1.3"/>
<line x1="187.84" y1="749.55" x2="187.84" y2="756.55" stroke="#2a2a2a" stroke-width="1.1"/>
<line x1="217.58" y1="749.55" x2="217.58" y2="756.55" stroke="#2a2a2a" stroke-width="1.1"/>
<circle cx="202.72" cy="753.05" r="1.05" fill="#000"/>
<text x="389.50" y="756.05" font-size="8.4" text-anchor="end" fill="#1a1a1a">0.6936</text>
<text x="424.80" y="756.05" font-size="8.4" text-anchor="end" fill="#1a1a1a">0.5358</text>
<text x="461.30" y="756.05" font-size="8.4" text-anchor="end" fill="#1a1a1a">0.8977</text>
<text x="471.40" y="756.05" font-size="8.4" fill="#1a1a1a">0.0054</text>
<text transform="translate(64.6 766.81) scale(0.967 1)" font-size="7.4" text-anchor="end" fill="#111" class="lb">Inversion</text>
<line x1="175.21" y1="764.71" x2="213.74" y2="764.71" stroke="#2a2a2a" stroke-width="1.3"/>
<line x1="175.21" y1="761.21" x2="175.21" y2="768.21" stroke="#2a2a2a" stroke-width="1.1"/>
<line x1="213.74" y1="761.21" x2="213.74" y2="768.21" stroke="#2a2a2a" stroke-width="1.1"/>
<circle cx="194.48" cy="764.71" r="1.05" fill="#000"/>
<text x="389.50" y="767.71" font-size="8.4" text-anchor="end" fill="#1a1a1a">0.6012</text>
<text x="424.80" y="767.71" font-size="8.4" text-anchor="end" fill="#1a1a1a">0.4304</text>
<text x="461.30" y="767.71" font-size="8.4" text-anchor="end" fill="#1a1a1a">0.8398</text>
<text x="471.40" y="767.71" font-size="8.4" fill="#1a1a1a">0.0028</text><rect x="1" y="389" width="518" height="1" fill="#444"/><rect x="1" y="407" width="518" height="1" fill="#444"/></g></svg>
</body></html>
